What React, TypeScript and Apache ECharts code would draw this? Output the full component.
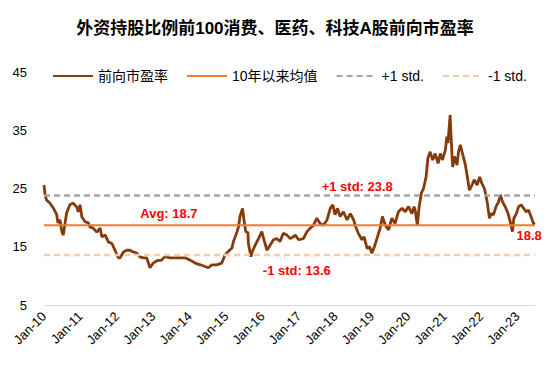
import React, { useEffect, useRef } from "react";
import * as echarts from "echarts";

const TITLE = "外资持股比例前100消费、医药、科技A股前向市盈率";
const START_YEAR = 2010;
const END_YEAR = 2023.48;

// years elapsed since Jan-2010
const peTime = [
  0.00, 0.03, 0.07, 0.16, 0.25, 0.35, 0.38, 0.44, 0.49, 0.53, 0.58, 0.62, 0.71, 0.80, 0.90, 0.94, 0.99, 1.04, 1.13, 1.22,
  1.26, 1.35, 1.45, 1.54, 1.59, 1.68, 1.77, 1.86, 1.95, 2.04, 2.09, 2.18, 2.27, 2.36, 2.45, 2.55, 2.64, 2.73, 2.82, 2.91,
  3.00, 3.10, 3.23,
  3.32, 3.46, 3.60, 3.74, 3.87, 4.01, 4.15, 4.29, 4.42, 4.51, 4.61, 4.74, 4.88, 4.97, 5.06, 5.16, 5.20, 5.27, 5.34, 5.38,
  5.45, 5.49, 5.54, 5.60, 5.61, 5.68, 5.72, 5.80, 5.89, 5.98, 6.04, 6.12, 6.21, 6.30, 6.39, 6.48, 6.57, 6.67, 6.76, 6.85,
  6.90, 6.99, 7.12, 7.22, 7.31, 7.40, 7.49, 7.58, 7.67, 7.77, 7.86, 7.93, 7.99, 8.06, 8.13, 8.22, 8.32, 8.41, 8.50, 8.56,
  8.63, 8.73, 8.79, 8.87, 8.94, 9.00, 9.07, 9.14, 9.23, 9.29, 9.37, 9.46, 9.55, 9.64, 9.73, 9.83, 9.92, 10.01, 10.10, 10.16,
  10.19, 10.25, 10.30, 10.36, 10.42, 10.49, 10.54, 10.60, 10.67, 10.74, 10.82, 10.88, 10.94, 11.02, 11.06, 11.09, 11.15,
  11.18, 11.22, 11.27, 11.34, 11.38, 11.43, 11.49, 11.57, 11.63, 11.68, 11.75, 11.81, 11.89, 11.96, 12.02, 12.09, 12.16,
  12.23, 12.28, 12.34, 12.41, 12.48, 12.53, 12.59, 12.66, 12.74, 12.80, 12.86, 12.90, 12.97, 13.03, 13.10, 13.17, 13.23,
  13.30, 13.37, 13.44, 13.47,
];

const peValues = [
  25.6, 23.9, 23.0, 22.5, 21.7, 20.5, 19.1, 19.6, 17.6, 17.0, 19.1, 20.8, 22.2, 22.5, 21.8, 21.0, 22.2, 20.1, 19.3, 19.1,
  18.4, 18.2, 17.5, 18.2, 16.7, 17.0, 15.8, 15.6, 14.4, 13.1, 13.1, 14.1, 14.4, 14.4, 14.1, 13.9, 13.2, 13.1, 13.1, 11.4,
  12.2, 12.6, 12.7,
  13.3, 13.1, 13.1, 13.1, 13.1, 12.7, 12.2, 11.9, 11.6, 11.4, 11.9, 11.9, 12.2, 13.6, 14.2, 14.8, 15.9, 17.0, 18.4, 20.2,
  21.6, 19.6, 17.6, 17.4, 15.6, 13.3, 14.2, 15.3, 16.4, 17.6, 16.2, 14.4, 15.3, 16.2, 16.4, 15.9, 17.3, 17.0, 16.4, 16.7,
  17.0, 16.2, 16.4, 17.6, 18.2, 18.7, 19.9, 19.0, 18.7, 19.6, 21.6, 22.2, 20.5, 21.6, 20.2, 21.0, 19.6, 20.7, 19.6, 18.4,
  17.3, 16.2, 16.7, 14.7, 15.0, 13.9, 15.0, 16.4, 18.2, 20.2, 18.7, 17.9, 19.9, 19.0, 21.0, 21.6, 21.0, 21.9, 20.7, 21.9,
  21.3, 18.7, 21.9, 24.2, 25.0, 27.0, 30.2, 31.3, 29.9, 31.0, 29.3, 31.0, 29.9, 31.6, 33.9, 32.8, 37.6,
  33.3, 28.7, 30.5, 29.0, 31.3, 32.5, 31.0, 29.0, 26.7, 24.7, 25.6, 26.5, 25.6, 27.0, 25.9, 25.0, 23.0,
  19.9, 20.7, 20.5, 21.9, 22.7, 23.9, 22.7, 21.9, 20.7, 19.3, 17.6, 19.9, 20.7, 21.9, 22.2, 21.6, 21.0,
  21.3, 20.2, 19.0, 18.8,
];

const AVG = 18.7;
const PLUS_STD = 23.8;
const MINUS_STD = 13.6;

const seriesNames = ["前向市盈率", "10年以来均值", "+1 std.", "-1 std."];
const yTicks = { min: 5, max: 45, interval: 10 };

const FONT = "'Liberation Sans', Arial, 'Noto Sans CJK SC', sans-serif";

export default function App() {
  const ref = useRef<HTMLDivElement>(null);

  useEffect(() => {
    if (!ref.current) return;
    const chart = echarts.init(ref.current, undefined, { renderer: "svg" });
    const peData = peTime.map((t, i) => [START_YEAR + t, peValues[i]]);
    const flat = (v: number) => [
      [START_YEAR, v],
      [END_YEAR, v],
    ];
    const last = peData[peData.length - 1];
    const redLabel = {
      show: true,
      color: "#FF0000",
      fontWeight: "bold",
      fontSize: 13,
      fontFamily: FONT,
    };

    chart.setOption({
      animation: false,
      backgroundColor: "#fff",
      textStyle: { fontFamily: FONT },
      title: {
        text: TITLE,
        left: "center",
        top: 15,
        textStyle: { fontSize: 17, fontWeight: "bold", color: "#000", fontFamily: FONT },
      },
      legend: {
        data: seriesNames,
        left: 47,
        top: 64,
        itemWidth: 40,
        itemHeight: 14,
        itemGap: 18,
        itemStyle: { opacity: 0, borderWidth: 0 },
        textStyle: { fontSize: 14, color: "#000", fontFamily: FONT },
      },
      grid: { left: 44, right: 15, top: 72, bottom: 70, containLabel: false },
      xAxis: {
        type: "value",
        min: START_YEAR,
        max: END_YEAR,
        interval: 1,
        splitLine: { show: false },
        axisTick: { show: false },
        axisLine: { show: true, lineStyle: { color: "#D9D9D9", width: 1 } },
        axisLabel: {
          rotate: 45,
          margin: 9,
          fontSize: 13,
          color: "#000",
          showMaxLabel: false,
          formatter: (v: number) =>
            Math.abs(v - Math.round(v)) < 1e-6 ? "Jan-" + String(Math.round(v)).slice(2) : "",
        },
      },
      yAxis: {
        type: "value",
        min: yTicks.min,
        max: yTicks.max,
        interval: yTicks.interval,
        splitLine: { show: false },
        axisLine: { show: false },
        axisTick: { show: false },
        axisLabel: { margin: 17, fontSize: 13, color: "#000" },
      },
      series: [
        {
          name: seriesNames[0],
          type: "line",
          data: peData,
          showSymbol: false,
          symbol: "none",
          lineStyle: { color: "#843C0C", width: 2.8 },
          itemStyle: { color: "#843C0C" },
          markPoint: {
            symbol: "circle",
            symbolSize: 0,
            data: [
              {
                coord: [START_YEAR + 3.43, AVG],
                label: { ...redLabel, position: "top", distance: 5, formatter: "Avg: " + AVG.toFixed(1) },
              },
              {
                coord: [START_YEAR + 8.6, PLUS_STD],
                label: { ...redLabel, position: "top", distance: 2, formatter: "+1 std: " + PLUS_STD.toFixed(1) },
              },
              {
                coord: [START_YEAR + 6.94, MINUS_STD],
                label: { ...redLabel, position: "bottom", distance: 9, formatter: "-1 std: " + MINUS_STD.toFixed(1) },
              },
              {
                coord: [last[0] - 0.15, last[1]],
                label: { ...redLabel, position: "bottom", distance: 4, formatter: (last[1] as number).toFixed(1) },
              },
            ],
          },
        },
        {
          name: seriesNames[1],
          type: "line",
          data: flat(AVG),
          showSymbol: false,
          symbol: "none",
          lineStyle: { color: "#ED7D31", width: 2 },
          itemStyle: { color: "#ED7D31" },
        },
        {
          name: seriesNames[2],
          type: "line",
          data: flat(PLUS_STD),
          showSymbol: false,
          symbol: "none",
          lineStyle: { color: "#A5A5A5", width: 2.5, type: [6, 4] },
          itemStyle: { color: "#A5A5A5" },
        },
        {
          name: seriesNames[3],
          type: "line",
          data: flat(MINUS_STD),
          showSymbol: false,
          symbol: "none",
          lineStyle: { color: "#F8CBAD", width: 2.5, type: [6, 4] },
          itemStyle: { color: "#F8CBAD" },
        },
      ],
    });

    return () => chart.dispose();
  }, []);

  return (
    <div
      ref={ref}
      style={{ position: "fixed", left: 0, top: 0, width: 550, height: 375, background: "#fff" }}
    />
  );
}
